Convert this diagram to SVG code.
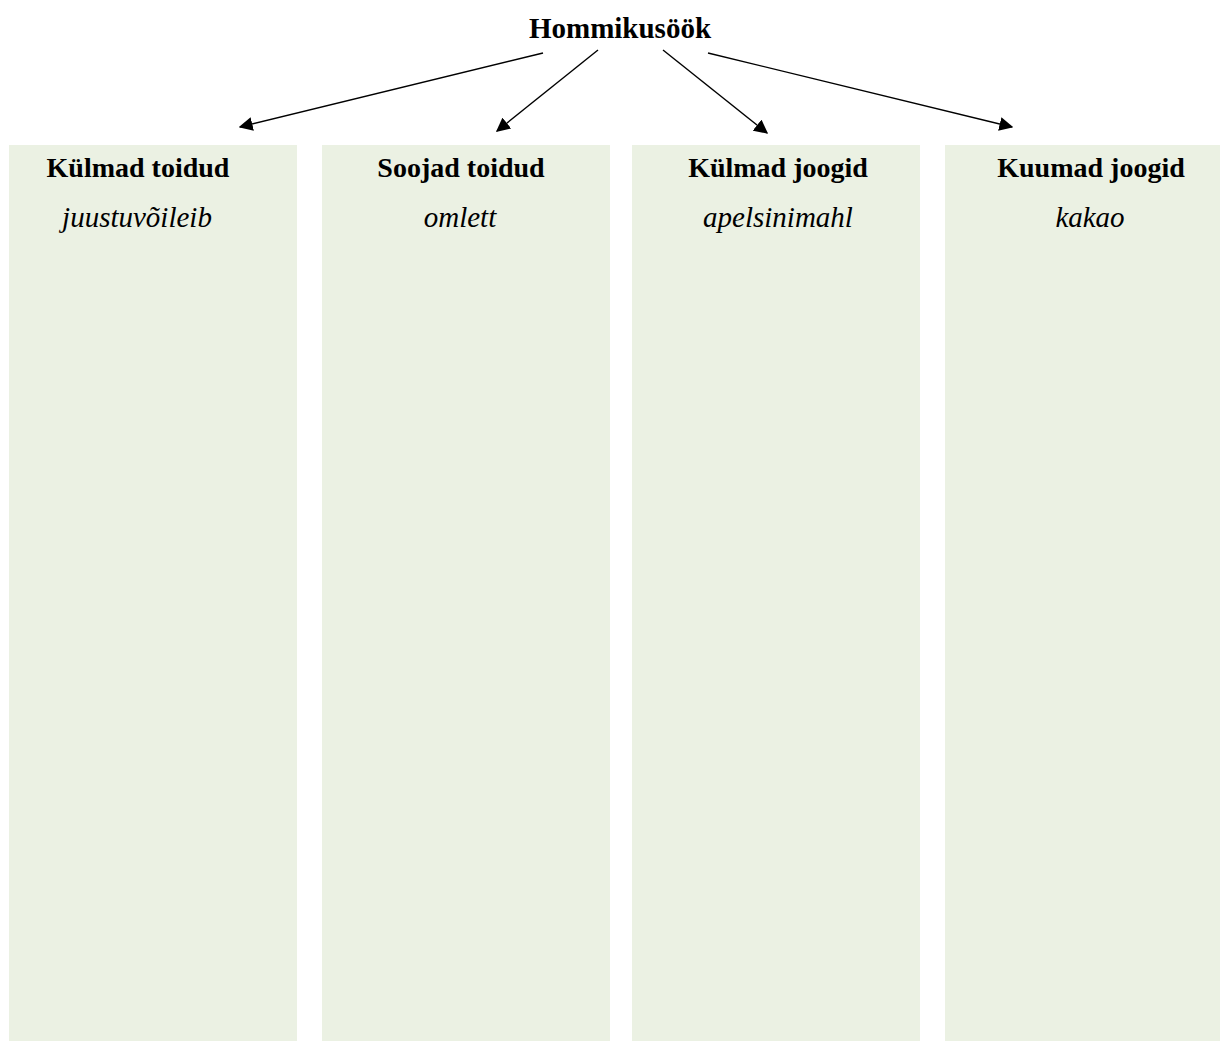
<svg xmlns="http://www.w3.org/2000/svg" width="1220" height="1041" viewBox="0 0 1220 1041">
<style>
.col{fill:#ebf1e3}
.h{font-family:"Liberation Serif",serif;font-weight:bold;font-size:28px;text-anchor:middle;fill:#000}
.t{font-size:29px}
.i{font-family:"Liberation Serif",serif;font-style:italic;font-size:29px;text-anchor:middle;fill:#000}
.c{stroke:#000;stroke-width:1.4;fill:none;marker-end:url(#ah)}
</style>
<defs>
<marker id="ah" viewBox="0 0 10 10" refX="9" refY="5" markerWidth="14" markerHeight="14" markerUnits="userSpaceOnUse" orient="auto">
<path d="M0,0 L10,5 L0,10 z" fill="#000"/>
</marker>
</defs>
<rect width="1220" height="1041" fill="#fff"/>
<g id="root"><text class="h t" x="620" y="38">Hommikusöök</text></g>
<g id="connectors">
<line class="c" x1="543" y1="53" x2="240" y2="127"/>
<line class="c" x1="598" y1="50" x2="497" y2="131"/>
<line class="c" x1="663" y1="50" x2="767" y2="133"/>
<line class="c" x1="708" y1="53" x2="1012" y2="127"/>
</g>
<g id="n1"><rect class="col" x="9" y="145" width="288" height="896"/><text class="h" x="138" y="177">Külmad toidud</text><text class="i" x="137" y="227">juustuvõileib</text></g>
<g id="n2"><rect class="col" x="322" y="145" width="288" height="896"/><text class="h" x="461" y="177">Soojad toidud</text><text class="i" x="460" y="227">omlett</text></g>
<g id="n3"><rect class="col" x="632" y="145" width="288" height="896"/><text class="h" x="778" y="177">Külmad joogid</text><text class="i" x="778" y="227">apelsinimahl</text></g>
<g id="n4"><rect class="col" x="945" y="145" width="275" height="896"/><text class="h" x="1091" y="177">Kuumad joogid</text><text class="i" x="1090" y="227">kakao</text></g>
</svg>
